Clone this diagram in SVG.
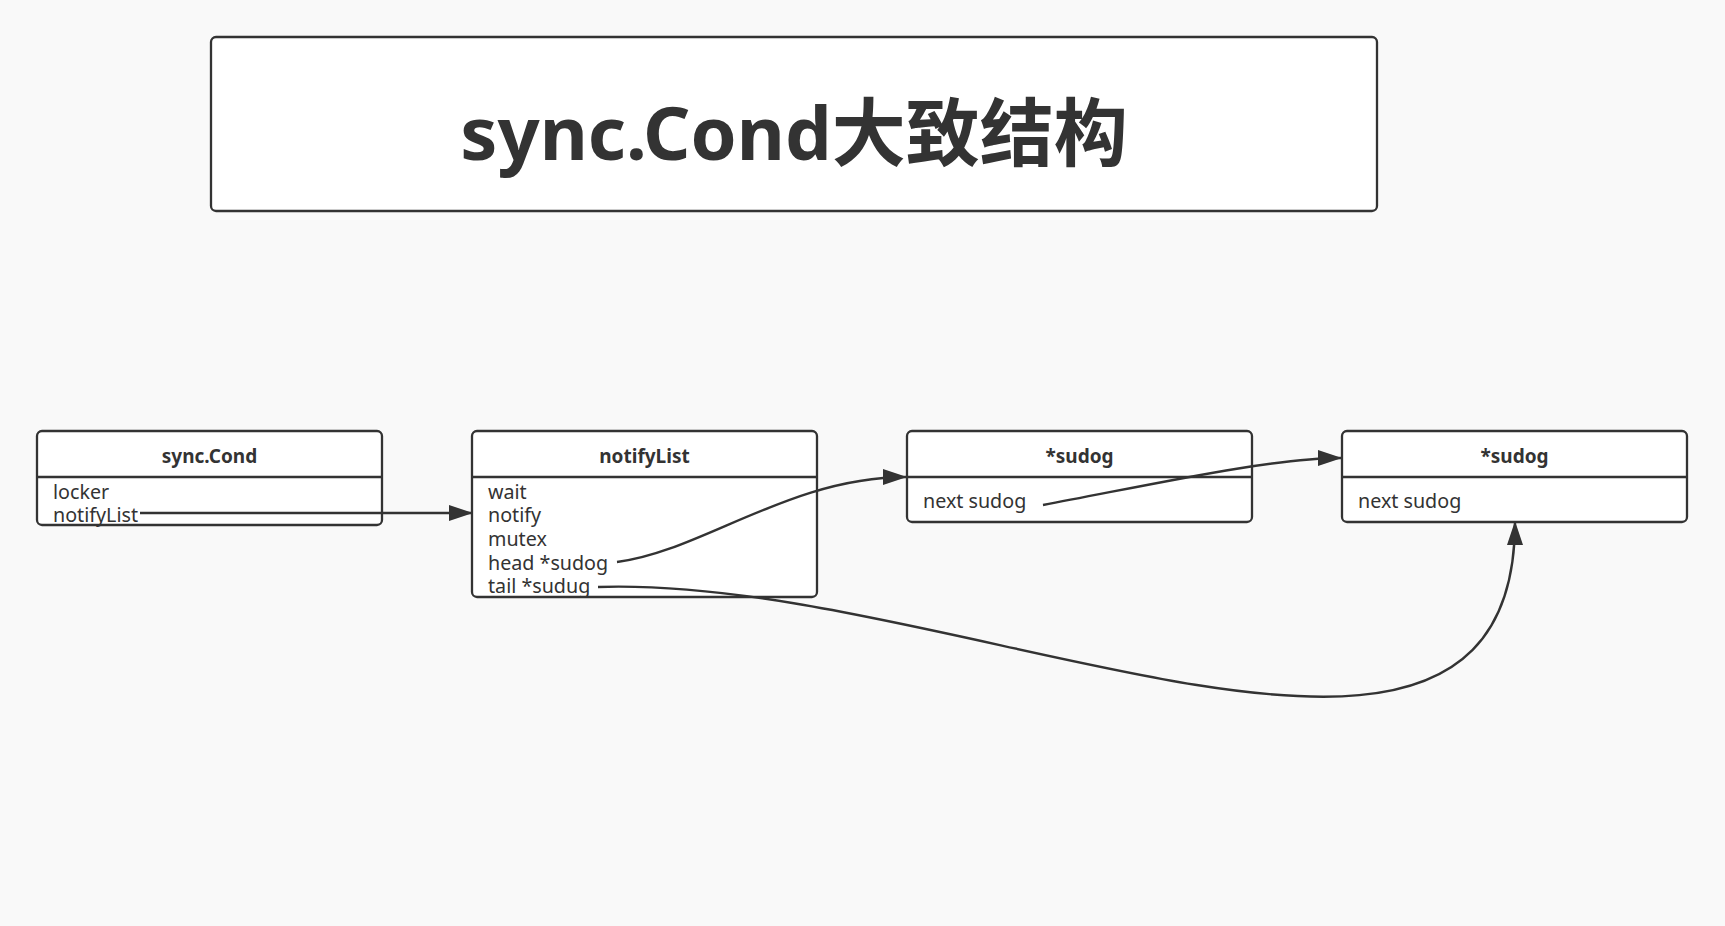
<svg xmlns="http://www.w3.org/2000/svg" width="1725" height="926" viewBox="0 0 1725 926">
<defs>
<style>
.box{fill:#ffffff;stroke:#333333;stroke-width:2.3}
.sep{stroke:#333333;stroke-width:2.3}
.hd{font-family:"Noto Sans","Noto Sans CJK SC",sans-serif;font-weight:bold;font-size:19px;fill:#333333;text-anchor:middle}
.tx{font-family:"Noto Sans","Noto Sans CJK SC",sans-serif;font-size:19.7px;fill:#333333}
.ttl{font-family:"Noto Sans","Noto Sans CJK SC",sans-serif;font-weight:bold;font-size:74px;fill:#333333;text-anchor:middle}
.edge{fill:none;stroke:#333333;stroke-width:2.4;marker-end:url(#arr)}
</style>
<marker id="arr" markerUnits="userSpaceOnUse" markerWidth="24" markerHeight="16" refX="23" refY="8" orient="auto">
<path d="M0,0 L24,8 L0,16 z" fill="#333333"/>
</marker>
</defs>
<rect x="0" y="0" width="1725" height="926" fill="#f9f9f9"/>
<g id="title">
<rect class="box" x="211" y="37" width="1166" height="174" rx="5"/>
<text class="ttl" x="794" y="160">sync.Cond大致结构</text>
</g>
<g id="node-sync-cond">
<rect class="box" x="37" y="431" width="345" height="94" rx="5"/>
<line class="sep" x1="37" y1="477" x2="382" y2="477"/>
<text class="hd" x="209.5" y="463">sync.Cond</text>
<text class="tx" x="53" y="499">locker</text>
<text class="tx" x="53" y="522">notifyList</text>
</g>
<g id="node-notifylist">
<rect class="box" x="472" y="431" width="345" height="166" rx="5"/>
<line class="sep" x1="472" y1="477" x2="817" y2="477"/>
<text class="hd" x="644.5" y="463">notifyList</text>
<text class="tx" x="488" y="498.5">wait</text>
<text class="tx" x="488" y="522">notify</text>
<text class="tx" x="488" y="545.5">mutex</text>
<text class="tx" x="488" y="569.5">head *sudog</text>
<text class="tx" x="488" y="593">tail *sudug</text>
</g>
<g id="node-sudog-1">
<rect class="box" x="907" y="431" width="345" height="91" rx="5"/>
<line class="sep" x1="907" y1="477" x2="1252" y2="477"/>
<text class="hd" x="1079.5" y="463">*sudog</text>
<text class="tx" x="923" y="508">next sudog</text>
</g>
<g id="node-sudog-2">
<rect class="box" x="1342" y="431" width="345" height="91" rx="5"/>
<line class="sep" x1="1342" y1="477" x2="1687" y2="477"/>
<text class="hd" x="1514.5" y="463">*sudog</text>
<text class="tx" x="1358" y="508">next sudog</text>
</g>
<g id="connectors">
<path class="edge" d="M140,513 L472,513"/>
<path class="edge" d="M617,562 C700,552 790,477 906,477"/>
<path class="edge" d="M1043,505 C1150,485 1270,458 1341,458"/>
<path class="edge" d="M598,587 C960,575 1515,880 1515,522"/>
</g>
</svg>
